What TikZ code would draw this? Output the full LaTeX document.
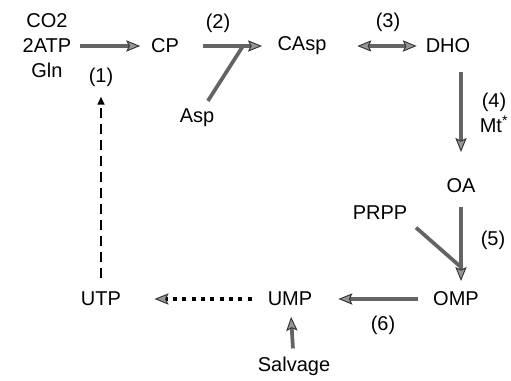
\documentclass[tikz,border=0pt]{standalone}
\usepackage{fontspec}
\setmainfont{Liberation Sans}
\usepackage{xcolor}
\usepackage{tikz}
\usetikzlibrary{calc, arrows.meta, positioning}
\definecolor{shaftgray}{RGB}{100,100,100}
\definecolor{tipgray}{RGB}{150,150,150}
\tikzset{
    textnode/.style = {draw=none, fill=none, rectangle, inner sep=0em, node distance=0em,
      font=\fontsize{15}{18.75}\selectfont},
    stepnode/.style = {textnode},
    graytip/.tip = {Stealth[length=10.5pt, width=8.5pt, inset=2pt, fill=tipgray, color=black!80, line width=0.7pt]},
    connect/.style = {draw=shaftgray, line width=2.8pt, -graytip},
    bothconnect/.style = {draw=shaftgray, line width=2.8pt, graytip-graytip},
    joinline/.style = {draw=shaftgray, line width=2.8pt},
    dashconnect/.style = {black, line width=1.6pt, dash pattern=on 7pt off 5pt,
      -{Triangle[length=6pt, width=5pt]}},
    dotconnect/.style = {black, line width=2.6pt, dash pattern=on 2.8pt off 4.2pt, -graytip},
    every text node part/.style={align=center}
}

\begin{document}
\begin{tikzpicture}
    \useasboundingbox (-35.25pt,-251.25pt) rectangle (348pt,34.5pt);

    \node [textnode, name=Sub] {CO2\\2ATP\\Gln};
    \node [textnode, name=CP, right of=Sub, xshift=88.5pt] {CP};
    \node [stepnode, name=s1, right of=Sub, xshift=40.5pt, yshift=-23.25pt] {(1)};
    \node [stepnode, name=s2, right of=CP, xshift=39.75pt, yshift=17.25pt] {(2)};
    \node [textnode, name=Asp, right of=CP, xshift=24pt, yshift=-54pt] {Asp};
    \node [textnode, name=CAsp, right of=CP, xshift=102.75pt] {CAsp};
    \node [stepnode, name=s3, right of=CAsp, xshift=64.5pt, yshift=18pt] {(3)};
    \node [textnode, name=DHO, right of=CAsp, xshift=109.5pt] {DHO};
    \node [stepnode, name=s4, right of=DHO, xshift=34.5pt, yshift=-50.25pt, align=left] {(4)\\Mt\textsuperscript{*}};
    \node [textnode, name=OA, below of=DHO, xshift=9.75pt, yshift=-105pt] {OA};
    \node [textnode, name=PRPP, left of=OA, xshift=-60.75pt, yshift=-20.25pt] {PRPP};
    \node [stepnode, name=s5, right of=OA, xshift=24pt, yshift=-40.5pt] {(5)};
    \node [textnode, name=OMP, below of=OA, xshift=-3.75pt, yshift=-84.75pt] {OMP};
    \node [stepnode, name=s6, left of=OMP, xshift=-54.75pt, yshift=-19.5pt] {(6)};
    \node [textnode, name=UMP, left of=OMP, xshift=-124.5pt] {UMP};
    \node [textnode, name=UTP, left of=UMP, xshift=-141.75pt] {UTP};
    \node [textnode, name=Salvage, below of=UMP, xshift=3pt, yshift=-50.25pt] {Salvage};

    \coordinate (joinA) at ($(CP)+(58.5pt,0)$);
    \coordinate (joinP) at ($(OA)+(0.75pt,-61.5pt)$);

    \draw (Sub) edge[connect, shorten <=6pt, shorten >=8pt] (CP);
    \draw (CP) edge[connect, shorten <=18pt, shorten >=11.5pt] (CAsp);
    \draw (Asp) edge[joinline, shorten <=7pt] (joinA);
    \draw (CAsp) edge[bothconnect, shorten <=23pt, shorten >=6.6pt] (DHO);
    \draw (DHO.south -| OA) edge[connect, shorten <=14pt, shorten >=20pt] (OA);
    \draw (OA) edge[connect, shorten <=10.5pt, shorten >=8pt] (OA |- OMP.north);
    \draw (PRPP.south east) edge[joinline, shorten <=8.5pt] (joinP);
    \draw (OMP) edge[connect, shorten <=11pt, shorten >=19.5pt] (UMP);
    \draw (UMP) edge[dotconnect, shorten <=12pt, shorten >=25pt] (UTP);
    \draw (Salvage) edge[connect, shorten <=6pt, shorten >=8pt] (UMP);
    \draw (UTP) edge[dashconnect, shorten <=10.5pt, shorten >=7.5pt] (s1);
\end{tikzpicture}
\end{document}
